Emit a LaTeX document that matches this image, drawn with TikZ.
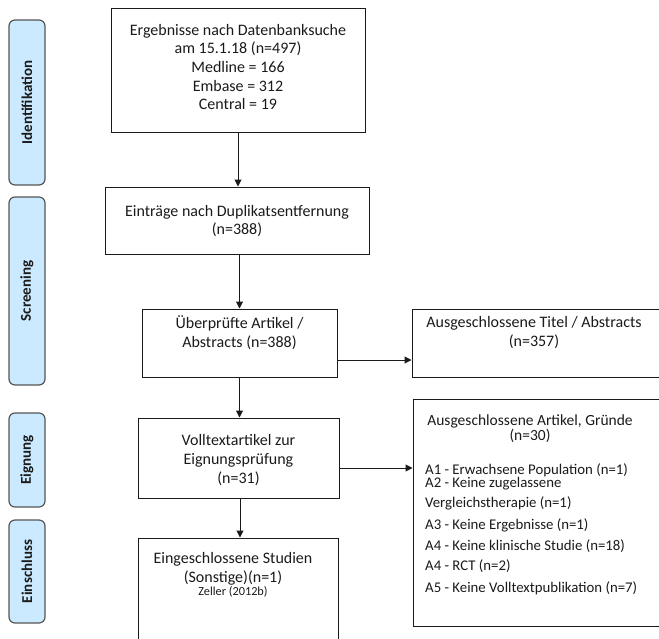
\documentclass[tikz,border=0pt]{standalone}
\usepackage{fontspec}
\setmainfont{Carlito}
\usetikzlibrary{arrows.meta,positioning}
\definecolor{phaseblue}{HTML}{CCEAFF}
\definecolor{phaseline}{HTML}{555555}
\definecolor{ink}{HTML}{1A1A1A}

\tikzset{
  box/.style={draw=ink,line width=1pt,inner sep=0pt,text=ink},
  txt/.style={align=center,text=ink,inner sep=0pt,font=\fontsize{16}{18.7}\selectfont},
  item/.style={anchor=west,text=ink,inner sep=0pt,font=\fontsize{14.8}{16}\selectfont},
  phase/.style={draw=phaseline,fill=phaseblue,line width=1.2pt,rounded corners=6pt,
    rotate=90,minimum height=36pt,inner sep=0pt,text=ink,
    font=\fontsize{15}{16}\selectfont\bfseries},
  arr/.style={draw=ink,line width=1pt,-{Triangle[length=7pt,width=7pt]}}
}

\begin{document}
\begin{tikzpicture}[x=1pt,y=-1pt]
    \useasboundingbox (0,0) rectangle (659,638);
    \clip (0,0) rectangle (659,638);
    % phases
    \node[phase,minimum width=165pt] (ident) at (27,102.5) {Identifikation};
    \node[phase,minimum width=188pt] (screen) at (27,291) {Screening};
    \node[phase,minimum width=94pt] (elig) at (27,460) {Eignung};
    \node[phase,minimum width=103pt] (incl) at (27,571.5) {Einschluss};
    % boxes
    \node[box,minimum width=254pt,minimum height=124pt] (search) at (238,70) {};
    \node[txt] (searchtxt) at (238,67) {Ergebnisse nach Datenbanksuche\\am 15.1.18 (n=497)\\Medline = 166\\Embase = 312\\Central = 19};
    \node[box,minimum width=264pt,minimum height=67pt] (dedup) at (237,220.5) {};
    \node[txt] (deduptxt) at (237,221) {Einträge nach Duplikatsentfernung\\(n=388)};
    \node[box,minimum width=195pt,minimum height=68pt] (check) at (239.5,343) {};
    \node[txt] (checktxt) at (239.5,332.5) {Überprüfte Artikel /\\Abstracts (n=388)};
    \node[box,minimum width=288pt,minimum height=68pt] (titleout) at (556,343) {};
    \node[txt] (titleouttxt) at (534,332.5) {Ausgeschlossene Titel / Abstracts\\(n=357)};
    \node[box,minimum width=201pt,minimum height=80pt] (full) at (238.5,458) {};
    \node[txt] (fulltxt) at (238.5,460) {Volltextartikel zur\\Eignungsprüfung\\(n=31)};
    \node[box,minimum width=287pt,minimum height=227pt] (fullout) at (556.5,512.5) {};
    \node[txt,font=\fontsize{15.5}{15}\selectfont] (fullouttxt) at (530,429) {Ausgeschlossene Artikel, Gründe\\(n=30)};
    \foreach \n/\y/\t in {1/470/{A1 - Erwachsene Population (n=1)},
                          2/484/{A2 - Keine zugelassene},
                          3/503/{Vergleichstherapie (n=1)},
                          4/525/{A3 - Keine Ergebnisse (n=1)},
                          5/546/{A4 - Keine klinische Studie (n=18)},
                          6/566/{A4 - RCT (n=2)},
                          7/588/{A5 - Keine Volltextpublikation (n=7)}}
      \node[item] (reason\n) at (425,\y) {\t};
    \node[box,minimum width=200pt,minimum height=170pt] (incbox) at (238,623) {};
    \node[txt] (inctxt) at (233,568.5) {Eingeschlossene Studien\\(Sonstige)(n=1)};
    \node[txt,font=\fontsize{12.3}{14}\selectfont] (inczeller) at (233,592) {Zeller (2012b)};
    % connectors
    \draw[arr] (search.south) -- (search.south |- dedup.north);
    \draw[arr] (check.north |- dedup.south) -- (check.north);
    \draw[arr] ([yshift=-17pt]check.east) -- ([yshift=-17pt]titleout.west);
    \draw[arr] (check.south) -- (check.south |- full.north);
    \coordinate (fullexit) at ([yshift=-10pt]full.east);
    \draw[arr] (fullexit) -- (fullexit -| fullout.west);
    \draw[arr] ([xshift=1.5pt]full.south) -- ([xshift=1.5pt]full.south |- incbox.north);
  \end{tikzpicture}
\end{document}
